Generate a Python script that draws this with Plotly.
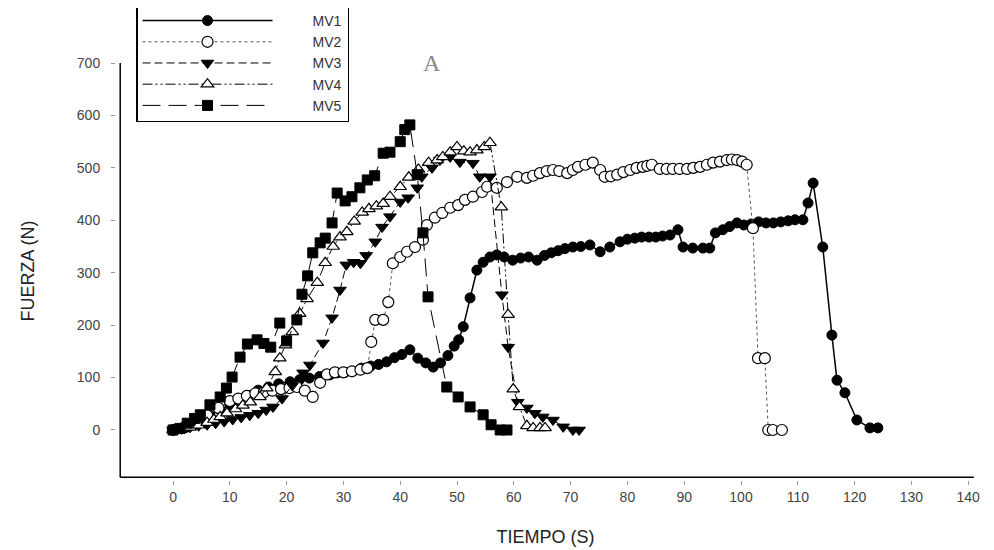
import plotly.graph_objects as go

# fuerza vs tiempo, 5 ensayos
mv1_t = [0, 1.5, 3, 4.8, 6.5, 8.3, 10, 11.5, 13.2, 15, 16.8, 18.6, 20.6, 22.3, 24, 25.8, 27.6,
         28.9, 30.3, 31.7, 33.2, 34.8, 36.2, 37.6, 39, 40.3, 41.7, 43.1, 44.5, 45.8, 47.1, 48.4,
         49.5, 50.3, 51.1, 52.3, 53.5, 54.6, 55.8, 57, 58.3, 59.8, 61.2, 62.6, 64.1, 65.4, 66.6,
         67.8, 69, 70.4, 71.8, 73.4, 75.2, 76.9, 78.7, 80, 81.3, 82.5, 83.8, 85, 86.2, 87.5, 88.9,
         89.8, 91.5, 93.3, 94.5, 95.5, 96.8, 98, 99.3, 100.5, 101.8, 103.1, 104.4, 105.7, 107,
         108.3, 109.5, 110.9, 111.8, 112.7, 114.4, 116, 116.9, 118.3, 120.4, 122.7, 124.1]
mv1_f = [0, 3, 10, 19, 28, 38, 48, 57, 66, 76, 82, 88, 92, 96, 99, 102, 105,
         109, 110, 112, 118, 122, 125, 130, 138, 144, 153, 137, 128, 120, 128, 142,
         160, 172, 197, 252, 305, 320, 330, 334, 330, 324, 328, 330, 324, 333, 338,
         342, 346, 349, 350, 353, 340, 349, 359, 364, 366, 368, 368, 368, 370, 372, 382,
         349, 347, 347, 347, 376, 382, 388, 395, 391, 393, 397, 395, 395, 397,
         399, 401, 401, 433, 471, 349, 181, 95, 71, 19, 4, 4]

mv2_t = [0, 2, 4, 6, 8, 10, 11.5, 13, 14.5, 16, 17.5, 19, 20.5, 21.8, 23.2, 24.6, 25.9, 27.1,
         28.5, 30, 31.5, 33, 34.2, 34.9, 35.6, 37, 37.9, 38.7, 40, 41.2, 42.6, 44, 44.7, 46.1,
         47.4, 48.8, 50.2, 51.4, 52.8, 54.4, 55.3, 57, 58.8, 60.6, 62.3, 63.4, 64.6, 65.8, 66.9,
         68, 69.4, 70.4, 71.3, 72.6, 73.9, 75.2, 76, 77.1, 78.2, 79.3, 80.5, 81.6, 82.7, 83.5,
         84.3, 85.7, 86.9, 88, 89.2, 90.5, 91.6, 92.8, 94, 95.1, 96.3, 97.5, 98.4, 99.3, 100.2,
         101, 102.1, 103, 104.2, 104.8, 105.6, 107.2]
mv2_f = [0, 5, 14, 28, 42, 55, 60, 65, 70, 72, 75, 78, 80, 82, 75, 63, 90, 106,
         110, 110, 112, 115, 118, 168, 210, 210, 244, 318, 330, 340, 349, 363, 391, 405,
         414, 424, 429, 439, 445, 454, 464, 462, 473, 483, 481, 485, 490, 494, 496,
         494, 490, 496, 502, 506, 510, 496, 483, 484, 487, 492, 496, 500, 502, 504,
         506, 498, 498, 498, 498, 498, 500, 502, 506, 510, 512, 515, 516, 515, 512,
         506, 385, 137, 137, 0, 0, 0]

mv3_t = [0, 1.5, 3, 4.5, 6, 7.5, 9, 10.5, 12, 13.5, 15, 16.4, 17.6, 19.2, 21, 22.9, 24.1, 26.4,
         28, 29.4, 30.5, 31.8, 33, 34, 35.6, 36.8, 38.2, 40, 41.4, 43, 43.8, 45.6, 47, 48.8,
         50.5, 52.8, 54, 55.8, 57.9, 59, 60.7, 62.3, 63.7, 65.1, 66.9, 68.7, 70.4, 71.5]
mv3_f = [0, 2, 5, 8, 10, 13, 16, 20, 24, 28, 32, 38, 44, 60, 85, 109, 124, 166,
         214, 267, 315, 320, 318, 333, 359, 387, 407, 435, 443, 462, 483, 500, 515, 521,
         511, 509, 483, 483, 258, 158, 53, 42, 32, 25, 19, 6, 0, 0]

mv4_t = [0, 1.5, 3, 4.5, 6, 7.2, 8.3, 9.5, 11, 12.3, 13.6, 15.3, 16.5, 18, 18.8, 19.8, 21, 22.3,
         23.6, 25.4, 26.8, 28.2, 29.4, 30.6, 31.9, 33.3, 34.5, 35.8, 37, 38.2, 40, 41.5, 43.2,
         45, 46.5, 47.5, 48.8, 50, 51.2, 52.3, 53.5, 54.8, 55.8, 57.8, 59, 59.9, 61, 62.3, 63.4,
         64.6, 65.5]
mv4_f = [0, 2, 5, 9, 14, 20, 25, 32, 40, 47, 53, 63, 80, 111, 137, 162, 187, 222,
         250, 281, 319, 350, 368, 378, 398, 415, 422, 427, 432, 445, 464, 482, 497,
         510, 515, 521, 530, 540, 532, 530, 534, 540, 548, 425, 220, 78, 44, 8, 4,
         4, 4]

mv5_t = [0, 1.2, 2.5, 3.8, 4.8, 6.5, 8.3, 9.4, 10.4, 11.8, 13.1, 14.8, 16, 17.2, 18.8, 20, 21.8,
         22.7, 23.7, 24.6, 25.9, 26.8, 28, 28.9, 30.3, 31.5, 32.9, 34.2, 35.5, 37, 38.2, 40,
         40.8, 41.7, 43, 44, 44.9, 48.2, 50.2, 52.3, 54.6, 56, 57.6, 58.8]
mv5_f = [0, 3, 13, 22, 29, 48, 63, 80, 101, 139, 164, 172, 165, 158, 204, 170, 210,
         259, 294, 338, 357, 366, 395, 452, 437, 445, 462, 477, 485, 528, 530, 550,
         573, 582, 487, 376, 254, 82, 63, 44, 29, 10, 0, 0]

x_ticks = list(range(0, 141, 10))
y_ticks = list(range(0, 701, 100))

pad = "\u00a0" * 9  # hueco entre muestra y texto de la leyenda

fig = go.Figure()

fig.add_trace(go.Scatter(x=mv1_t, y=mv1_f, name=pad + "MV1", mode="lines+markers",
                         line=dict(color="black", width=1.5, dash="solid"),
                         marker=dict(symbol="circle", size=10, color="black",
                                     line=dict(color="black", width=1))))
fig.add_trace(go.Scatter(x=mv2_t, y=mv2_f, name=pad + "MV2", mode="lines+markers",
                         line=dict(color="#555", width=1, dash="dot"),
                         marker=dict(symbol="circle", size=11, color="white",
                                     line=dict(color="black", width=1.2))))
fig.add_trace(go.Scatter(x=mv3_t, y=mv3_f, name=pad + "MV3", mode="lines+markers",
                         line=dict(color="black", width=1, dash="8px,4px"),
                         marker=dict(symbol="triangle-down", size=11, color="black",
                                     line=dict(color="black", width=1))))
fig.add_trace(go.Scatter(x=mv4_t, y=mv4_f, name=pad + "MV4", mode="lines+markers",
                         line=dict(color="black", width=1, dash="10px,3px,2px,3px,2px,3px"),
                         marker=dict(symbol="triangle-up", size=11, color="white",
                                     line=dict(color="black", width=1.2))))
fig.add_trace(go.Scatter(x=mv5_t, y=mv5_f, name=pad + "MV5", mode="lines+markers",
                         line=dict(color="black", width=1, dash="18px,8px"),
                         marker=dict(symbol="square", size=10, color="black",
                                     line=dict(color="black", width=1))))

# ejes dibujados aparte (separados de las marcas de division)
fig.add_shape(type="line", xref="x", yref="y", x0=-9.3, x1=-9.3, y0=-90, y1=700,
              line=dict(color="black", width=1.5))
fig.add_shape(type="line", xref="x", yref="y", x0=-9.3, x1=141, y0=-90, y1=-90,
              line=dict(color="black", width=1.5))

fig.add_annotation(x=45.6, y=700, text="A", showarrow=False, xref="x", yref="y",
                   font=dict(family="Liberation Serif, serif", size=24, color="#888"))

# la pagina tiene 8px de margen en body: figura un poco mas pequena
fig.update_layout(
    width=986, height=542,
    margin=dict(l=108, r=19, t=54, b=70, autoexpand=False),
    plot_bgcolor="white", paper_bgcolor="white",
    font=dict(family="Liberation Sans, Arial, sans-serif", size=14, color="#333"),
    showlegend=True,
    legend=dict(x=0.0233, y=1.14, xanchor="left", yanchor="top",
                bordercolor="black", borderwidth=1.5, bgcolor="white",
                itemwidth=130, font=dict(size=14, color="#333"),
                tracegroupgap=0),
    xaxis=dict(range=[-10.04, 141.2], tickvals=x_ticks, ticks="outside", ticklen=4,
               tickcolor="#999", showgrid=False, zeroline=False, showline=False,
               title=dict(text="TIEMPO (S)", font=dict(size=18, color="#222"), standoff=26),
               tickfont=dict(size=14, color="#444")),
    yaxis=dict(range=[-95.4, 702], tickvals=y_ticks, ticks="outside", ticklen=4,
               tickcolor="#999", showgrid=False, zeroline=False, showline=False,
               title=dict(text="FUERZA (N)", font=dict(size=18, color="#222"), standoff=37),
               tickfont=dict(size=14, color="#444"), ticklabelstandoff=8),
)

fig.write_html("out.html")
